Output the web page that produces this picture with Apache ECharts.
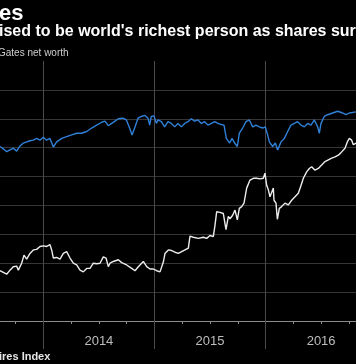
<!DOCTYPE html>
<html><head><meta charset="utf-8">
<script src="https://cdn.jsdelivr.net/npm/echarts@6/dist/echarts.min.js"></script>
<style>html,body{margin:0;padding:0;background:#000;overflow:hidden;}#c{width:356px;height:364px;}</style>
</head><body><div id="c"></div>
<script>
// Gates net worth (blue), $B, x as decimal year
const gatesYears = [2013.610,2013.640,2013.670,2013.700,2013.730,2013.760,2013.790,2013.820,2013.850,2013.880,2013.910,2013.940,2013.970,2014.000,2014.030,2014.060,2014.090,2014.120,2014.165,2014.210,2014.255,2014.300,2014.345,2014.390,2014.435,2014.480,2014.525,2014.555,2014.585,2014.615,2014.645,2014.675,2014.717,2014.747,2014.777,2014.798,2014.822,2014.852,2014.882,2014.912,2014.942,2014.957,2014.972,2014.996,2015.017,2015.032,2015.062,2015.092,2015.122,2015.152,2015.182,2015.212,2015.242,2015.272,2015.302,2015.332,2015.362,2015.392,2015.422,2015.452,2015.482,2015.512,2015.542,2015.572,2015.602,2015.626,2015.647,2015.677,2015.698,2015.722,2015.746,2015.764,2015.794,2015.824,2015.854,2015.884,2015.914,2015.944,2015.974,2015.998,2016.019,2016.034,2016.064,2016.088,2016.109,2016.139,2016.169,2016.199,2016.229,2016.259,2016.289,2016.319,2016.349,2016.379,2016.409,2016.439,2016.469,2016.484,2016.499,2016.529,2016.559,2016.604,2016.649,2016.694,2016.724,2016.754,2016.814];
const gatesWorth = [75.2,74.8,74.3,74.6,74.9,74.4,75.3,75.8,76.0,76.2,76.3,76.6,76.3,76.8,76.3,76.6,75.1,76.0,76.6,76.9,77.2,77.5,77.5,77.8,78.4,78.9,79.4,79.6,78.8,79.2,79.6,80.0,80.1,79.8,78.4,77.2,78.4,80.1,80.4,80.6,80.1,78.9,80.4,80.5,79.2,79.8,79.5,78.6,79.5,79.2,78.6,79.2,78.6,79.2,79.5,80.0,79.6,79.8,79.2,79.5,78.9,79.2,79.5,79.2,79.0,78.9,76.6,75.8,76.6,75.8,75.2,77.5,78.4,79.5,79.8,78.6,78.9,78.6,78.4,78.6,77.2,76.0,75.2,75.8,74.6,76.0,76.6,77.8,78.9,79.2,79.5,78.9,78.6,79.2,78.9,79.8,78.6,77.5,79.2,80.4,80.7,81.0,81.3,81.0,80.7,81.0,81.2];
// Ortega net worth (white), $B
const ortegaYears = [2013.610,2013.640,2013.670,2013.700,2013.730,2013.760,2013.775,2013.805,2013.826,2013.850,2013.880,2013.910,2013.940,2013.970,2014.000,2014.030,2014.060,2014.075,2014.090,2014.120,2014.150,2014.180,2014.210,2014.240,2014.270,2014.300,2014.330,2014.360,2014.390,2014.420,2014.450,2014.480,2014.510,2014.540,2014.564,2014.585,2014.600,2014.630,2014.675,2014.705,2014.750,2014.795,2014.825,2014.855,2014.900,2014.930,2014.960,2014.990,2015.020,2015.050,2015.065,2015.080,2015.095,2015.125,2015.155,2015.185,2015.215,2015.245,2015.275,2015.305,2015.320,2015.350,2015.395,2015.440,2015.470,2015.500,2015.530,2015.545,2015.560,2015.590,2015.620,2015.644,2015.665,2015.680,2015.704,2015.725,2015.746,2015.764,2015.785,2015.806,2015.830,2015.860,2015.890,2015.920,2015.950,2015.980,2015.995,2016.010,2016.025,2016.040,2016.055,2016.070,2016.076,2016.094,2016.106,2016.124,2016.145,2016.175,2016.205,2016.235,2016.265,2016.295,2016.310,2016.325,2016.340,2016.370,2016.394,2016.415,2016.445,2016.475,2016.505,2016.535,2016.565,2016.595,2016.625,2016.655,2016.677,2016.694,2016.715,2016.736,2016.754,2016.775,2016.790,2016.814];
const ortegaWorth = [53.7,53.4,53.1,53.8,54.4,54.5,53.8,55.0,56.4,55.7,56.7,57.3,57.4,57.9,58.0,57.9,58.2,57.3,55.9,56.0,55.7,56.7,57.0,55.9,55.0,54.7,53.8,53.5,54.1,54.1,55.0,54.9,55.0,56.1,55.9,54.4,55.0,55.3,55.6,55.1,54.7,54.1,53.7,54.4,55.3,54.4,54.0,54.0,53.7,53.5,53.3,55.2,56.7,57.3,57.2,56.9,56.7,57.0,57.3,57.6,59.7,59.5,59.3,59.5,59.3,59.8,59.6,61.6,63.9,63.8,63.6,60.8,63.1,62.7,63.3,64.2,62.5,64.5,64.8,65.4,68.0,69.4,69.7,69.7,69.6,69.7,70.6,68.5,67.7,66.5,66.8,68.0,65.9,65.4,62.6,64.5,64.8,65.4,65.1,65.9,66.5,67.1,67.4,68.8,69.7,70.8,71.4,71.7,71.1,71.4,72.0,72.6,72.9,73.2,73.4,73.7,74.1,74.0,74.9,76.0,76.6,76.3,75.5,75.8];

const yearTicks = [2014, 2015, 2016];
const quarterTicks = [2013.75, 2014.25, 2014.5, 2014.75, 2015.25, 2015.5, 2015.75, 2016.25, 2016.5, 2016.75];
const yearLabels = ['2014', '2015', '2016'];
const xMin = 2013.61, xMax = 2016.814;
const yMin = 45, yMax = 90, yStep = 5;

const pair = (xs, ys) => xs.map((x, i) => [x, ys[i]]);
const chart = echarts.init(document.getElementById('c'));
chart.setOption({
  backgroundColor: '#000',
  animation: false,
  grid: { left: 0, right: 0, top: 61, bottom: 43, containLabel: false },
  xAxis: [{
    type: 'value', min: xMin, max: xMax, position: 'bottom',
    axisLine: { show: true, lineStyle: { color: '#8c8c8c', width: 1 } },
    axisTick: { show: true, customValues: yearTicks, length: 28, lineStyle: { color: '#4a4a4a' } },
    splitLine: { show: true, lineStyle: { color: '#4a4a4a', width: 1 } },
    axisLabel: {
      show: true, customValues: yearLabels.map(y => Number(y) + 0.5),
      formatter: v => String(Math.floor(v)), color: '#bdbdbd', fontSize: 13,
      fontFamily: 'Liberation Sans', margin: 14
    }
  }, {
    type: 'value', min: xMin, max: xMax, position: 'bottom',
    axisLine: { show: false },
    axisTick: { show: true, customValues: quarterTicks, length: 3, lineStyle: { color: '#8c8c8c' } },
    splitLine: { show: false },
    axisLabel: { show: false }
  }],
  yAxis: {
    type: 'value', min: yMin, max: yMax, interval: yStep,
    axisLine: { show: false }, axisTick: { show: false }, axisLabel: { show: false },
    splitLine: { show: true, showMinLine: false, showMaxLine: false, lineStyle: { color: '#363636', width: 1 } }
  },
  series: [{
    name: 'Gates net worth', type: 'line', xAxisIndex: 0, data: pair(gatesYears, gatesWorth),
    showSymbol: false, symbol: 'none', lineStyle: { color: '#2f80d8', width: 1.4 }, z: 3
  }, {
    name: 'Ortega net worth', type: 'line', xAxisIndex: 0, data: pair(ortegaYears, ortegaWorth),
    showSymbol: false, symbol: 'none', lineStyle: { color: '#ececec', width: 1.4 }, z: 4
  }],
  graphic: [
    { type: 'text', x: -1, y: 3, style: { text: 'es', font: 'bold 22px "Liberation Sans"', fill: '#ffffff', textVerticalAlign: 'top' } },
    { type: 'text', x: -1, y: 24, style: { text: "ised to be world's richest person as shares sur", font: 'bold 16px "Liberation Sans"', fill: '#ffffff', textVerticalAlign: 'top' } },
    { type: 'text', x: -2, y: 48, style: { text: 'Gates net worth', font: '10px "Liberation Sans"', fill: '#cfcfcf', textVerticalAlign: 'top' } },
    { type: 'text', x: -1, y: 351, style: { text: 'ires Index', font: 'bold 11px "Liberation Sans"', fill: '#e6e6e6', textVerticalAlign: 'top' } }
  ]
});
</script>
</body></html>
